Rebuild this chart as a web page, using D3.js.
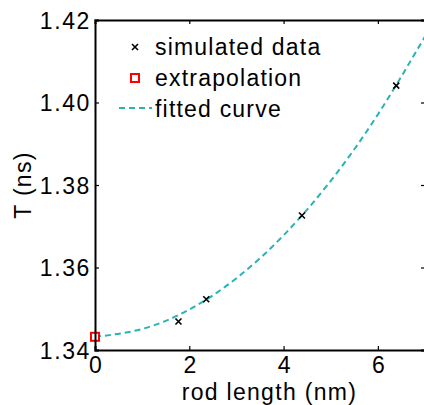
<!DOCTYPE html>
<html>
<head>
<meta charset="utf-8">
<script src="https://cdn.jsdelivr.net/npm/d3@7"></script>
<style>
  body { margin: 0; background: #fff; }
  svg { display: block; font-family: "Liberation Sans", Arial, sans-serif; }
</style>
</head>
<body>
<div id="chart"></div>
<script>
// Data.
const simX = [1.77, 2.36, 4.39, 6.39];
const simT = [1.3469, 1.3523, 1.3726, 1.4041];
const extrapX = [0];
const extrapT = [1.3432];
const fitX = [0, 1, 2, 3, 4, 5, 6, 7];
const fitT = [1.3432, 1.3451, 1.3498, 1.3574, 1.3678, 1.3810, 1.3971, 1.4160];
const xTicks = [0, 2, 4, 6];
const yTicks = [1.34, 1.36, 1.38, 1.40, 1.42];
const legendLabels = ['simulated data', 'extrapolation', 'fitted curve'];

const fitColor = '#2ab3b3';

const W = 424, H = 405;
const margin = { top: 20, right: -1, bottom: 55, left: 95 };
const width = W - margin.left - margin.right;
const height = H - margin.top - margin.bottom;

const svg = d3.select('#chart').append('svg')
  .attr('width', W).attr('height', H);

const g = svg.append('g')
  .attr('transform', `translate(${margin.left}, ${margin.top})`);

const x = d3.scaleLinear().domain([0, 7]).range([0, width]);
const y = d3.scaleLinear().domain([1.34, 1.42]).range([height, 0]);

// Fitted curve.
const line = d3.line()
  .x(d => x(d[0]))
  .y(d => y(d[1]))
  .curve(d3.curveNatural);

g.append('path')
  .datum(fitX.map((v, i) => [v, fitT[i]]))
  .attr('d', line)
  .attr('fill', 'none')
  .attr('stroke', fitColor)
  .attr('stroke-width', 2)
  .attr('stroke-dasharray', '6,4');

// Simulated data crosses.
const cross = (sel, s) => sel.append('path')
  .attr('d', `M${-s},${-s}L${s},${s}M${-s},${s}L${s},${-s}`)
  .attr('stroke', '#000')
  .attr('stroke-width', 1.6);

simX.forEach((v, i) => {
  const c = g.append('g').attr('transform', `translate(${x(v)}, ${y(simT[i])})`);
  cross(c, 3);
});

// Extrapolation square.
g.selectAll('.extrap')
  .data(extrapX)
  .enter()
  .append('rect')
  .attr('class', 'extrap')
  .attr('x', d => x(d) - 4)
  .attr('y', (d, i) => y(extrapT[i]) - 4)
  .attr('width', 8).attr('height', 8)
  .attr('fill', '#fff')
  .attr('stroke', '#f00')
  .attr('stroke-width', 2);

// Axes with inward ticks on all four sides.
const fs = '23px';
const xAxis = g.append('g')
  .attr('transform', `translate(0, ${height})`)
  .call(d3.axisBottom(x).tickValues(xTicks).tickSize(-4).tickPadding(7).tickFormat(d3.format('d')));
const xTop = g.append('g')
  .call(d3.axisTop(x).tickValues(xTicks).tickSize(-4).tickFormat(''));
const yAxis = g.append('g')
  .call(d3.axisLeft(y).tickValues(yTicks).tickSize(-4).tickPadding(4).tickFormat(d3.format('.2f')));
const yRight = g.append('g')
  .attr('transform', `translate(${width}, 0)`)
  .call(d3.axisRight(y).tickValues(yTicks).tickSize(-4).tickFormat(''));

[xAxis, xTop, yAxis, yRight].forEach(a => {
  a.select('.domain').attr('stroke', '#000').attr('stroke-width', 2);
  a.selectAll('.tick line').attr('stroke', '#000').attr('stroke-width', 1.2);
  a.selectAll('text').style('font-size', fs).attr('fill', '#000')
    .style('letter-spacing', '1.6px')
    .style('font-family', '"Liberation Sans", Arial, sans-serif');
});
xAxis.selectAll('text').attr('dy', '0.71em').attr('dx', '0.8');
yAxis.selectAll('text').attr('dy', '0.36em');

// Axis labels.
svg.append('text')
  .attr('x', margin.left + x(3.7))
  .attr('y', 400)
  .attr('text-anchor', 'middle')
  .style('font-size', fs)
  .style('letter-spacing', '1.3px')
  .text('rod length (nm)');

svg.append('text')
  .attr('transform', `translate(31, ${margin.top + height / 2}) rotate(-90)`)
  .attr('text-anchor', 'middle')
  .style('font-size', fs)
  .style('letter-spacing', '1.3px')
  .text('T (ns)');

// Legend.
const legend = svg.append('g').attr('transform', 'translate(135, 47)');
const rowH = 31;
cross(legend.append('g'), 3);
legend.append('rect')
  .attr('x', -4).attr('y', rowH - 4)
  .attr('width', 8).attr('height', 8)
  .attr('fill', '#fff').attr('stroke', '#f00').attr('stroke-width', 2);
legend.append('line')
  .attr('x1', -16).attr('x2', 17)
  .attr('y1', rowH * 2 - 1).attr('y2', rowH * 2 - 1)
  .attr('stroke', fitColor).attr('stroke-width', 2)
  .attr('stroke-dasharray', '6,4');
legend.selectAll('.lbl')
  .data(legendLabels)
  .enter()
  .append('text')
  .attr('class', 'lbl')
  .attr('x', 20)
  .attr('y', (d, i) => i * rowH + 8)
  .style('font-size', fs)
  .style('letter-spacing', '1.2px')
  .text(d => d);
</script>
</body>
</html>
